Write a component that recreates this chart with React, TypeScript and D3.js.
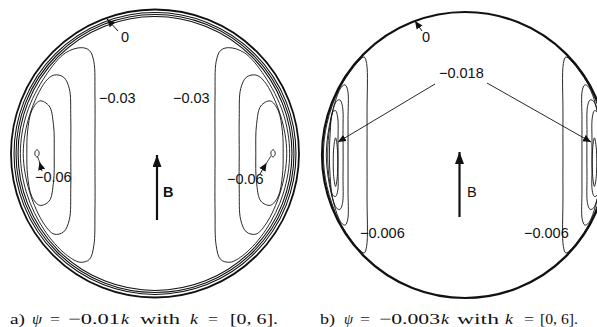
import * as d3 from "d3"

// contour outlines of the left-hand vortex in unit-disk coords (u right, v up);
// the right-hand vortex is the mirror image
type Pt = [number, number]

// a) psi = -0.01k : the wall band (0, -0.01, -0.02) and closed cells
const bandA = [1, 0.979, 0.965, 0.951]
const a003: Pt[] = [[-0.62, 0.7], [-0.51, 0.735], [-0.455, 0.715], [-0.425, 0.64], [-0.417, 0.4], [-0.417, 0], [-0.417, -0.4], [-0.425, -0.64], [-0.455, -0.735], [-0.52, -0.755], [-0.62, -0.7], [-0.77, -0.53], [-0.89, -0.28], [-0.935, 0], [-0.89, 0.28], [-0.76, 0.54]]
const a004: Pt[] = [[-0.76, 0.5], [-0.7, 0.545], [-0.635, 0.53], [-0.595, 0.45], [-0.585, 0.25], [-0.585, 0], [-0.585, -0.25], [-0.595, -0.46], [-0.635, -0.545], [-0.7, -0.56], [-0.77, -0.49], [-0.87, -0.27], [-0.915, 0], [-0.87, 0.27]]
const a005: Pt[] = [[-0.8, 0.365], [-0.735, 0.33], [-0.705, 0.2], [-0.7, 0], [-0.705, -0.2], [-0.735, -0.33], [-0.8, -0.36], [-0.855, -0.3], [-0.885, -0.15], [-0.89, 0], [-0.885, 0.15], [-0.855, 0.3]]
const a006: Pt[] = [[-0.82, 0.026], [-0.806, 0.012], [-0.807, -0.012], [-0.82, -0.024], [-0.833, -0.01], [-0.833, 0.012]]
const cellsA = [a003, a004, a005, a006]

// b) psi = -0.003k
const b006: Pt[] = [[-0.745, 0.655], [-0.705, 0.685], [-0.688, 0.64], [-0.685, 0.3], [-0.685, 0], [-0.685, -0.3], [-0.688, -0.64], [-0.705, -0.685], [-0.745, -0.655], [-0.88, -0.46], [-0.965, -0.22], [-0.99, 0], [-0.965, 0.22], [-0.88, 0.46]]
const b009: Pt[] = [[-0.865, 0.475], [-0.838, 0.49], [-0.82, 0.45], [-0.818, 0.25], [-0.818, 0], [-0.818, -0.25], [-0.82, -0.45], [-0.838, -0.49], [-0.865, -0.475], [-0.935, -0.27], [-0.97, 0], [-0.935, 0.27]]
const b012: Pt[] = [[-0.9, 0.375], [-0.875, 0.385], [-0.857, 0.34], [-0.853, 0.15], [-0.853, -0.15], [-0.857, -0.34], [-0.875, -0.38], [-0.9, -0.37], [-0.945, -0.2], [-0.96, 0], [-0.945, 0.2]]
const b015: Pt[] = [[-0.925, 0.3], [-0.905, 0.31], [-0.89, 0.26], [-0.888, 0.1], [-0.888, -0.1], [-0.89, -0.25], [-0.905, -0.29], [-0.925, -0.28], [-0.943, -0.15], [-0.948, 0], [-0.943, 0.15]]
const b018: Pt[] = [[-0.905, 0.12], [-0.893, 0.05], [-0.893, -0.15], [-0.905, -0.22], [-0.918, -0.15], [-0.918, 0.05]]
const cellsB = [b006, b009, b012, b015, b018]

// caption pieces: text, italic?
const captionA: [string, boolean][] = [["a)", false], ["ψ", true], ["=", false], ["−0.01", false], ["k", true], ["with", false], ["k", true], ["=", false], ["[0, 6].", false]]
const captionB: [string, boolean][] = [["b)", false], ["ψ", true], ["=", false], ["−0.003", false], ["k", true], ["with", false], ["k", true], ["=", false], ["[0, 6].", false]]

const mirror = (pts: Pt[]): Pt[] => pts.map(([u, v]) => [-u, v] as Pt)

const sans = "'Liberation Sans', Arial, sans-serif"
const serif = "'Liberation Serif', 'Times New Roman', serif"

function Panel(props: { cx: number; cy: number; r: number; band: number[]; cells: Pt[][]; wall: number }) {
    const x = d3.scaleLinear().domain([-1, 1]).range([props.cx - props.r, props.cx + props.r])
    const y = d3.scaleLinear().domain([-1, 1]).range([props.cy + props.r, props.cy - props.r])
    const line = d3.line<Pt>()
        .x(d => x(d[0]))
        .y(d => y(d[1]))
        .curve(d3.curveCatmullRomClosed.alpha(0.5))
    const all = props.cells.concat(props.cells.map(mirror))
    return (
        <g fill="none" stroke="#111">
            {props.band.map((b, i) => (
                <circle key={i} cx={x(0)} cy={y(0)} r={x(b) - x(0)} strokeWidth={i === 0 ? props.wall : 1.1} />
            ))}
            {all.map((c, i) => <path key={i} d={line(c) ?? ""} strokeWidth={0.9} />)}
        </g>
    )
}

// each caption piece is stretched into the slot it takes in the scan
function Caption(props: { parts: [string, boolean][]; slots: [number, number][] }) {
    return (
        <g fontFamily={serif} fontSize={15} fill="#111">
            {props.parts.map(([t, it], i) => (
                <text key={i} x={props.slots[i][0]} y={324} textLength={props.slots[i][1]}
                    lengthAdjust="spacingAndGlyphs" fontStyle={it ? "italic" : "normal"}>{t}</text>
            ))}
        </g>
    )
}

export default function App() {
    return (
        <svg width={597} height={327} style={{ position: "absolute", left: 0, top: 0, background: "#fff" }}>
            <defs>
                <marker id="head" viewBox="0 0 10 10" refX="10" refY="5" markerWidth="8" markerHeight="8"
                    markerUnits="userSpaceOnUse" orient="auto">
                    <path d="M0,0.5 L10,5 L0,9.5 z" fill="#111" />
                </marker>
                <marker id="bhead" viewBox="0 0 10 10" refX="10" refY="5" markerWidth="12" markerHeight="9"
                    markerUnits="userSpaceOnUse" orient="auto" preserveAspectRatio="none">
                    <path d="M0,0 L10,5 L0,10 z" fill="#111" />
                </marker>
            </defs>

            {/* a) */}
            <Panel cx={155} cy={153.5} r={144} band={bandA} cells={cellsA} wall={1.8} />
            <g fontFamily={sans} fontSize={14.5} fill="#111">
                <text x={121} y={42}>0</text>
                <text x={99} y={103}>−0.03</text>
                <text x={173} y={103}>−0.03</text>
                <text x={35} y={182}>−0.06</text>
                <text x={227} y={184}>−0.06</text>
                <text x={163} y={197} fontWeight="bold">B</text>
            </g>
            <g stroke="#111" fill="none">
                <line x1={118} y1={31} x2={107} y2={19} strokeWidth={1} markerEnd="url(#head)" />
                <line x1={42} y1={171} x2={39.5} y2={162} strokeWidth={1} markerEnd="url(#head)" />
                <line x1={39.5} y1={162} x2={37.5} y2={156.5} strokeWidth={0.8} />
                <line x1={260} y1={174} x2={266.5} y2={163} strokeWidth={1} markerEnd="url(#head)" />
                <line x1={266.5} y1={163} x2={271} y2={156} strokeWidth={0.8} />
                <line x1={157} y1={220} x2={157} y2={155} strokeWidth={2.2} markerEnd="url(#bhead)" />
            </g>

            {/* b) */}
            <Panel cx={465} cy={155} r={143} band={[1]} cells={cellsB} wall={2.2} />
            <g fontFamily={sans} fontSize={14.5} fill="#111">
                <text x={422} y={42}>0</text>
                <text x={439} y={78}>−0.018</text>
                <text x={360} y={238}>−0.006</text>
                <text x={524} y={238}>−0.006</text>
                <text x={467} y={197}>B</text>
            </g>
            <g stroke="#111" fill="none">
                <line x1={422} y1={31} x2={415} y2={21} strokeWidth={1} markerEnd="url(#head)" />
                <line x1={435} y1={84} x2={338} y2={142} strokeWidth={0.9} markerEnd="url(#head)" />
                <line x1={487} y1={83} x2={591} y2={142} strokeWidth={0.9} markerEnd="url(#head)" />
                <line x1={459.5} y1={217} x2={459.5} y2={152} strokeWidth={2.2} markerEnd="url(#bhead)" />
            </g>

            {/* captions */}
            <Caption parts={captionA} slots={[[10, 15], [32, 10], [50, 10], [68, 52], [121, 8], [140, 40], [190, 8], [208, 10], [230, 48]]} />
            <Caption parts={captionB} slots={[[320, 15], [344, 9], [360, 10], [379, 61], [441, 8], [457, 42], [505, 8], [524, 10], [540, 38]]} />
        </svg>
    )
}
